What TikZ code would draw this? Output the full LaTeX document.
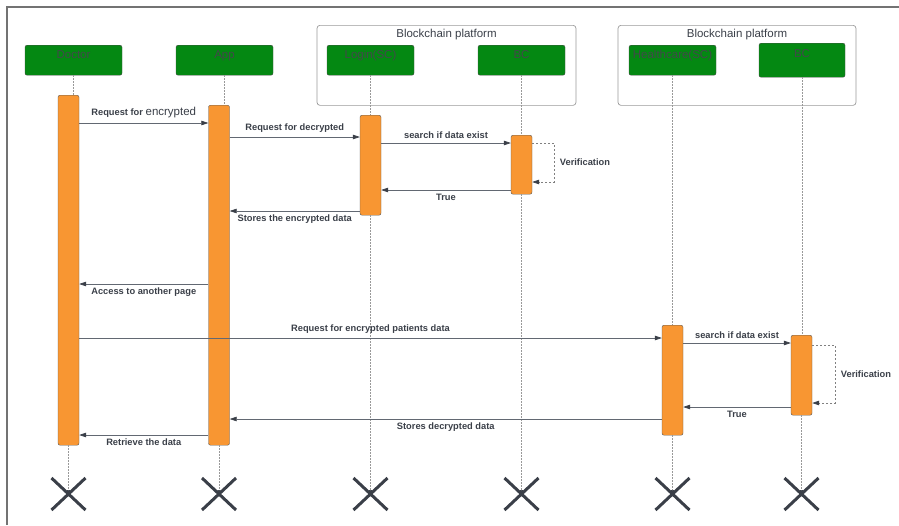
\documentclass[tikz,border=0pt]{standalone}
\usepackage{fontspec}
\setmainfont{Liberation Sans}
\usetikzlibrary{arrows.meta,positioning}

\definecolor{actorgreen}{RGB}{4,136,18}
\definecolor{barorange}{RGB}{248,150,50}
\definecolor{darkink}{RGB}{58,63,72}
\definecolor{wiregray}{RGB}{98,104,114}
\definecolor{actortext}{RGB}{66,72,74}

\begin{document}
\begin{tikzpicture}[x=1pt,y=-1pt,
    actor/.style={draw=gray!60!black, fill=actorgreen, rounded corners=2pt,
      anchor=north, inner sep=0pt, minimum height=30pt,
      text height=13pt, text depth=17pt, text=actortext,
      font=\fontsize{11.5}{13}\selectfont},
    platform/.style={draw=gray!80, rounded corners=3pt, line width=0.7pt,
      anchor=north, inner sep=0pt, minimum height=80pt},
    title/.style={font=\fontsize{11.5}{13}\selectfont, text=darkink},
    bar/.style={draw=gray!70!black, fill=barorange, rounded corners=2pt,
      anchor=north, inner sep=0pt, minimum width=21pt},
    life/.style={draw=gray!80, dash pattern=on 1.5pt off 1.5pt, line width=0.6pt},
    msg/.style={draw=wiregray, line width=0.7pt,
      -{Triangle[length=7pt,width=4.5pt,color=darkink]}},
    selfmsg/.style={msg, draw=gray, dash pattern=on 2pt off 2pt},
    lbl/.style={font=\bfseries\fontsize{9.3}{11}\selectfont, text=darkink},
    kill/.style={draw=darkink, line width=3pt},
  ]
  \useasboundingbox (0,0) rectangle (899,525);

  % Outer frame
  \draw[gray!90!black, line width=1.2pt] (7,525) -- (7,7) -- (899,7);

  % Blockchain platforms
  \node[platform, minimum width=259pt] (chainA) at (446.5,25) {};
  \node[platform, minimum width=238pt] (chainB) at (737,25) {};
  \node[title, below=1pt of chainA.north] (chainA-title) {Blockchain platform};
  \node[title, below=1pt of chainB.north] (chainB-title) {Blockchain platform};

  % Actors
  \node[actor, minimum width=97pt] (doctor) at (73.5,45) {Doctor};
  \node[actor, minimum width=97pt] (app) at (224.5,45) {App};
  \node[actor, minimum width=87pt] (login) at (370.5,45) {Login(SC)};
  \node[actor, minimum width=87pt] (bcone) at (521.5,45) {BC};
  \node[actor, minimum width=87pt] (hc) at (672.5,45) {Healthcare(SC)};
  \node[actor, minimum width=86pt, minimum height=34pt,
    text height=14pt, text depth=20pt] (bctwo) at (802,43) {BC};

  % Activation bars
  \node[bar, minimum height=350pt] (doctor-bar) at (68.5,95) {};
  \node[bar, minimum height=340pt] (app-bar) at (219,105) {};
  \node[bar, minimum height=100pt] (login-bar) at (370.5,115) {};
  \node[bar, minimum height=59pt] (bcone-bar) at (521.5,135) {};
  \node[bar, minimum height=110pt] (hc-bar) at (672.5,325) {};
  \node[bar, minimum height=80pt] (bctwo-bar) at (801.5,335) {};

  % End points of the lifelines
  \foreach \who/\cx in {doctor/68.5, app/219, login/370.5, bcone/521.5, hc/672.5, bctwo/801.5} {
    \coordinate (\who-end) at (\cx,494);
  }

  % Draw the lifelines and the crosses
  \foreach \who in {doctor,app,login,bcone,hc,bctwo} {
    \draw[life] (\who.south) -- (\who.south |- \who-bar.north);
    \draw[life, -{Triangle[length=4pt,width=3.5pt,color=darkink]}] (\who-bar.south) -- (\who-end);
    \draw[kill] (\who-end) +(-17,-16) -- +(17,16) +(-17,16) -- +(17,-16);
  }

  % Messages: storing
  \draw[msg] (doctor-bar.east |- 0,123) -- node[lbl, above=1pt]
    {Request for \mdseries\fontsize{11.5}{13}\selectfont encrypted} (app-bar.west |- 0,123);
  \draw[msg] (app-bar.east |- 0,137) -- node[lbl, above=1pt] {Request for decrypted} (login-bar.west |- 0,137);
  \draw[msg] (login-bar.east |- 0,143) -- node[lbl, above=1pt] {search if data exist} (bcone-bar.west |- 0,143);
  \draw[selfmsg] (bcone-bar.east |- 0,143) -- ++(22,0)
    -- node[lbl, right=2pt] {Verification} ++(0,39) -- (bcone-bar.east |- 0,182);
  \draw[msg] (bcone-bar.west |- 0,190) -- node[lbl, below=0pt] {True} (login-bar.east |- 0,190);
  \draw[msg] (login-bar.west |- 0,211) -- node[lbl, below=0pt] {Stores the encrypted data} (app-bar.east |- 0,211);
  \draw[msg] (app-bar.west |- 0,284) -- node[lbl, below=0pt] {Access to another page} (doctor-bar.east |- 0,284);

  % Messages: retrieving
  \draw[msg] (doctor-bar.east |- 0,338) -- node[lbl, above=1pt] {Request for encrypted patients data} (hc-bar.west |- 0,338);
  \draw[msg] (hc-bar.east |- 0,343) -- node[lbl, above=1pt] {search if data exist} (bctwo-bar.west |- 0,343);
  \draw[selfmsg] (bctwo-bar.east |- 0,345) -- ++(23,0)
    -- node[lbl, right=2pt] {Verification} ++(0,58) -- (bctwo-bar.east |- 0,403);
  \draw[msg] (bctwo-bar.west |- 0,407) -- node[lbl, below=0pt] {True} (hc-bar.east |- 0,407);
  \draw[msg] (hc-bar.west |- 0,419) -- node[lbl, below=0pt] {Stores decrypted data} (app-bar.east |- 0,419);
  \draw[msg] (app-bar.west |- 0,435) -- node[lbl, below=0pt] {Retrieve the data} (doctor-bar.east |- 0,435);

\end{tikzpicture}
\end{document}
